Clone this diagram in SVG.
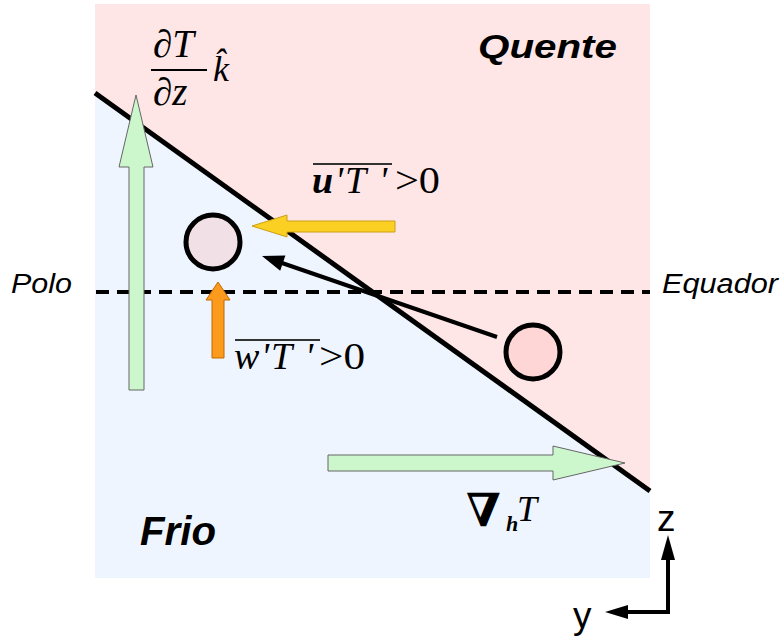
<svg xmlns="http://www.w3.org/2000/svg" width="783" height="639" viewBox="0 0 783 639">
<style>
.lbl{font-family:"Liberation Sans",Arial,sans-serif;fill:#000}
.big{font-weight:bold;font-style:italic}
.it{font-style:italic}
.math{font-family:"Liberation Serif","Times New Roman",serif;fill:#000}
.green{fill:#ccf7cc;stroke:#666;stroke-width:1}
.ln{stroke:#000;fill:none}
</style>
<g id="background">
<rect x="95" y="4" width="555" height="574" fill="#eef5ff"/>
<polygon points="95,4 650,4 650,491 95,93" fill="#ffe6e6"/>
</g>
<g id="connectors">
<line class="ln" x1="95" y1="93" x2="650" y2="491" stroke-width="5"/>
<line class="ln" x1="96" y1="292" x2="650" y2="292" stroke-width="4" stroke-dasharray="13 8"/>
<line class="ln" x1="497" y1="337" x2="282" y2="263" stroke-width="4"/>
<polygon points="262,256 285.4,255.6 280.2,270.8" fill="#000"/>
</g>
<g id="arrow-dTdz">
<polygon class="green" points="136,95 153,167 144,167 144,390 129,390 129,167 119,167"/>
</g>
<g id="arrow-gradT">
<polygon class="green" points="625,463 553,446 553,455 328,455 328,471 553,471 553,480"/>
</g>
<g id="arrow-uT">
<polygon points="252,226 287,215 287,221 395,221 395,232 287,232 287,237" fill="#fcd022" stroke="#c9a018" stroke-width="1"/>
</g>
<g id="arrow-wT">
<polygon points="218,282 230,300 224,300 224,358 212,358 212,300 206,300" fill="#fb9a1c" stroke="#c06a00" stroke-width="1"/>
</g>
<g id="parcel-cold">
<circle cx="213" cy="242" r="27" fill="#f2e0e7" stroke="#000" stroke-width="5"/>
</g>
<g id="parcel-warm">
<circle cx="533" cy="352" r="27" fill="#ffd6d6" stroke="#000" stroke-width="5"/>
</g>
<g id="labels">
<text class="lbl big" x="478" y="58" font-size="33" textLength="139" lengthAdjust="spacingAndGlyphs">Quente</text>
<text class="lbl big" x="140" y="545" font-size="41" textLength="76" lengthAdjust="spacingAndGlyphs">Frio</text>
<text class="lbl it" x="11" y="293" font-size="27" textLength="61" lengthAdjust="spacingAndGlyphs">Polo</text>
<text class="lbl it" x="662" y="293" font-size="27" textLength="116" lengthAdjust="spacingAndGlyphs">Equador</text>
<text class="lbl" x="657" y="531" font-size="37">z</text>
<text class="lbl" x="573" y="628" font-size="37">y</text>
</g>
<g id="axes">
<polyline class="ln" points="668,558 668,612 626,612" stroke-width="4"/>
<polygon points="668,535 675,560 661,560" fill="#000"/>
<polygon points="605,612 628,605 628,619" fill="#000"/>
</g>
<g id="math-dTdz">
<text class="math it" x="153" y="57" font-size="39">∂T</text>
<line x1="151" y1="70" x2="207" y2="70" stroke="#000" stroke-width="2"/>
<text class="math it" x="153" y="105" font-size="39">∂z</text>
<text class="math it" x="213" y="81" font-size="36">k&#x302;</text>
</g>
<g id="math-uT">
<line x1="313" y1="164" x2="392" y2="164" stroke="#333" stroke-width="2"/>
<text class="math" y="193" font-size="38"><tspan x="312" font-weight="bold" font-style="italic">u</tspan><tspan x="335" font-style="italic">'</tspan><tspan x="345" font-style="italic">T</tspan><tspan x="379" font-style="italic">'</tspan></text>
<text class="math" x="395" y="193" font-size="38" textLength="45" lengthAdjust="spacingAndGlyphs">&gt;0</text>
</g>
<g id="math-wT">
<line x1="235" y1="340" x2="320" y2="340" stroke="#333" stroke-width="2"/>
<text class="math" y="369" font-size="38"><tspan x="234" font-style="italic">w</tspan><tspan x="261" font-style="italic">'</tspan><tspan x="271" font-style="italic">T</tspan><tspan x="305" font-style="italic">'</tspan></text>
<text class="math" x="319" y="369" font-size="38" textLength="46" lengthAdjust="spacingAndGlyphs">&gt;0</text>
</g>
<g id="math-gradT">
<text x="466" y="526" font-family="'DejaVu Serif',serif" font-weight="bold" font-size="46">∇</text>
<text class="math" x="506" y="531" font-size="22" font-weight="bold" font-style="italic">h</text>
<text class="math it" x="517" y="521" font-size="36">T</text>
</g>
</svg>
